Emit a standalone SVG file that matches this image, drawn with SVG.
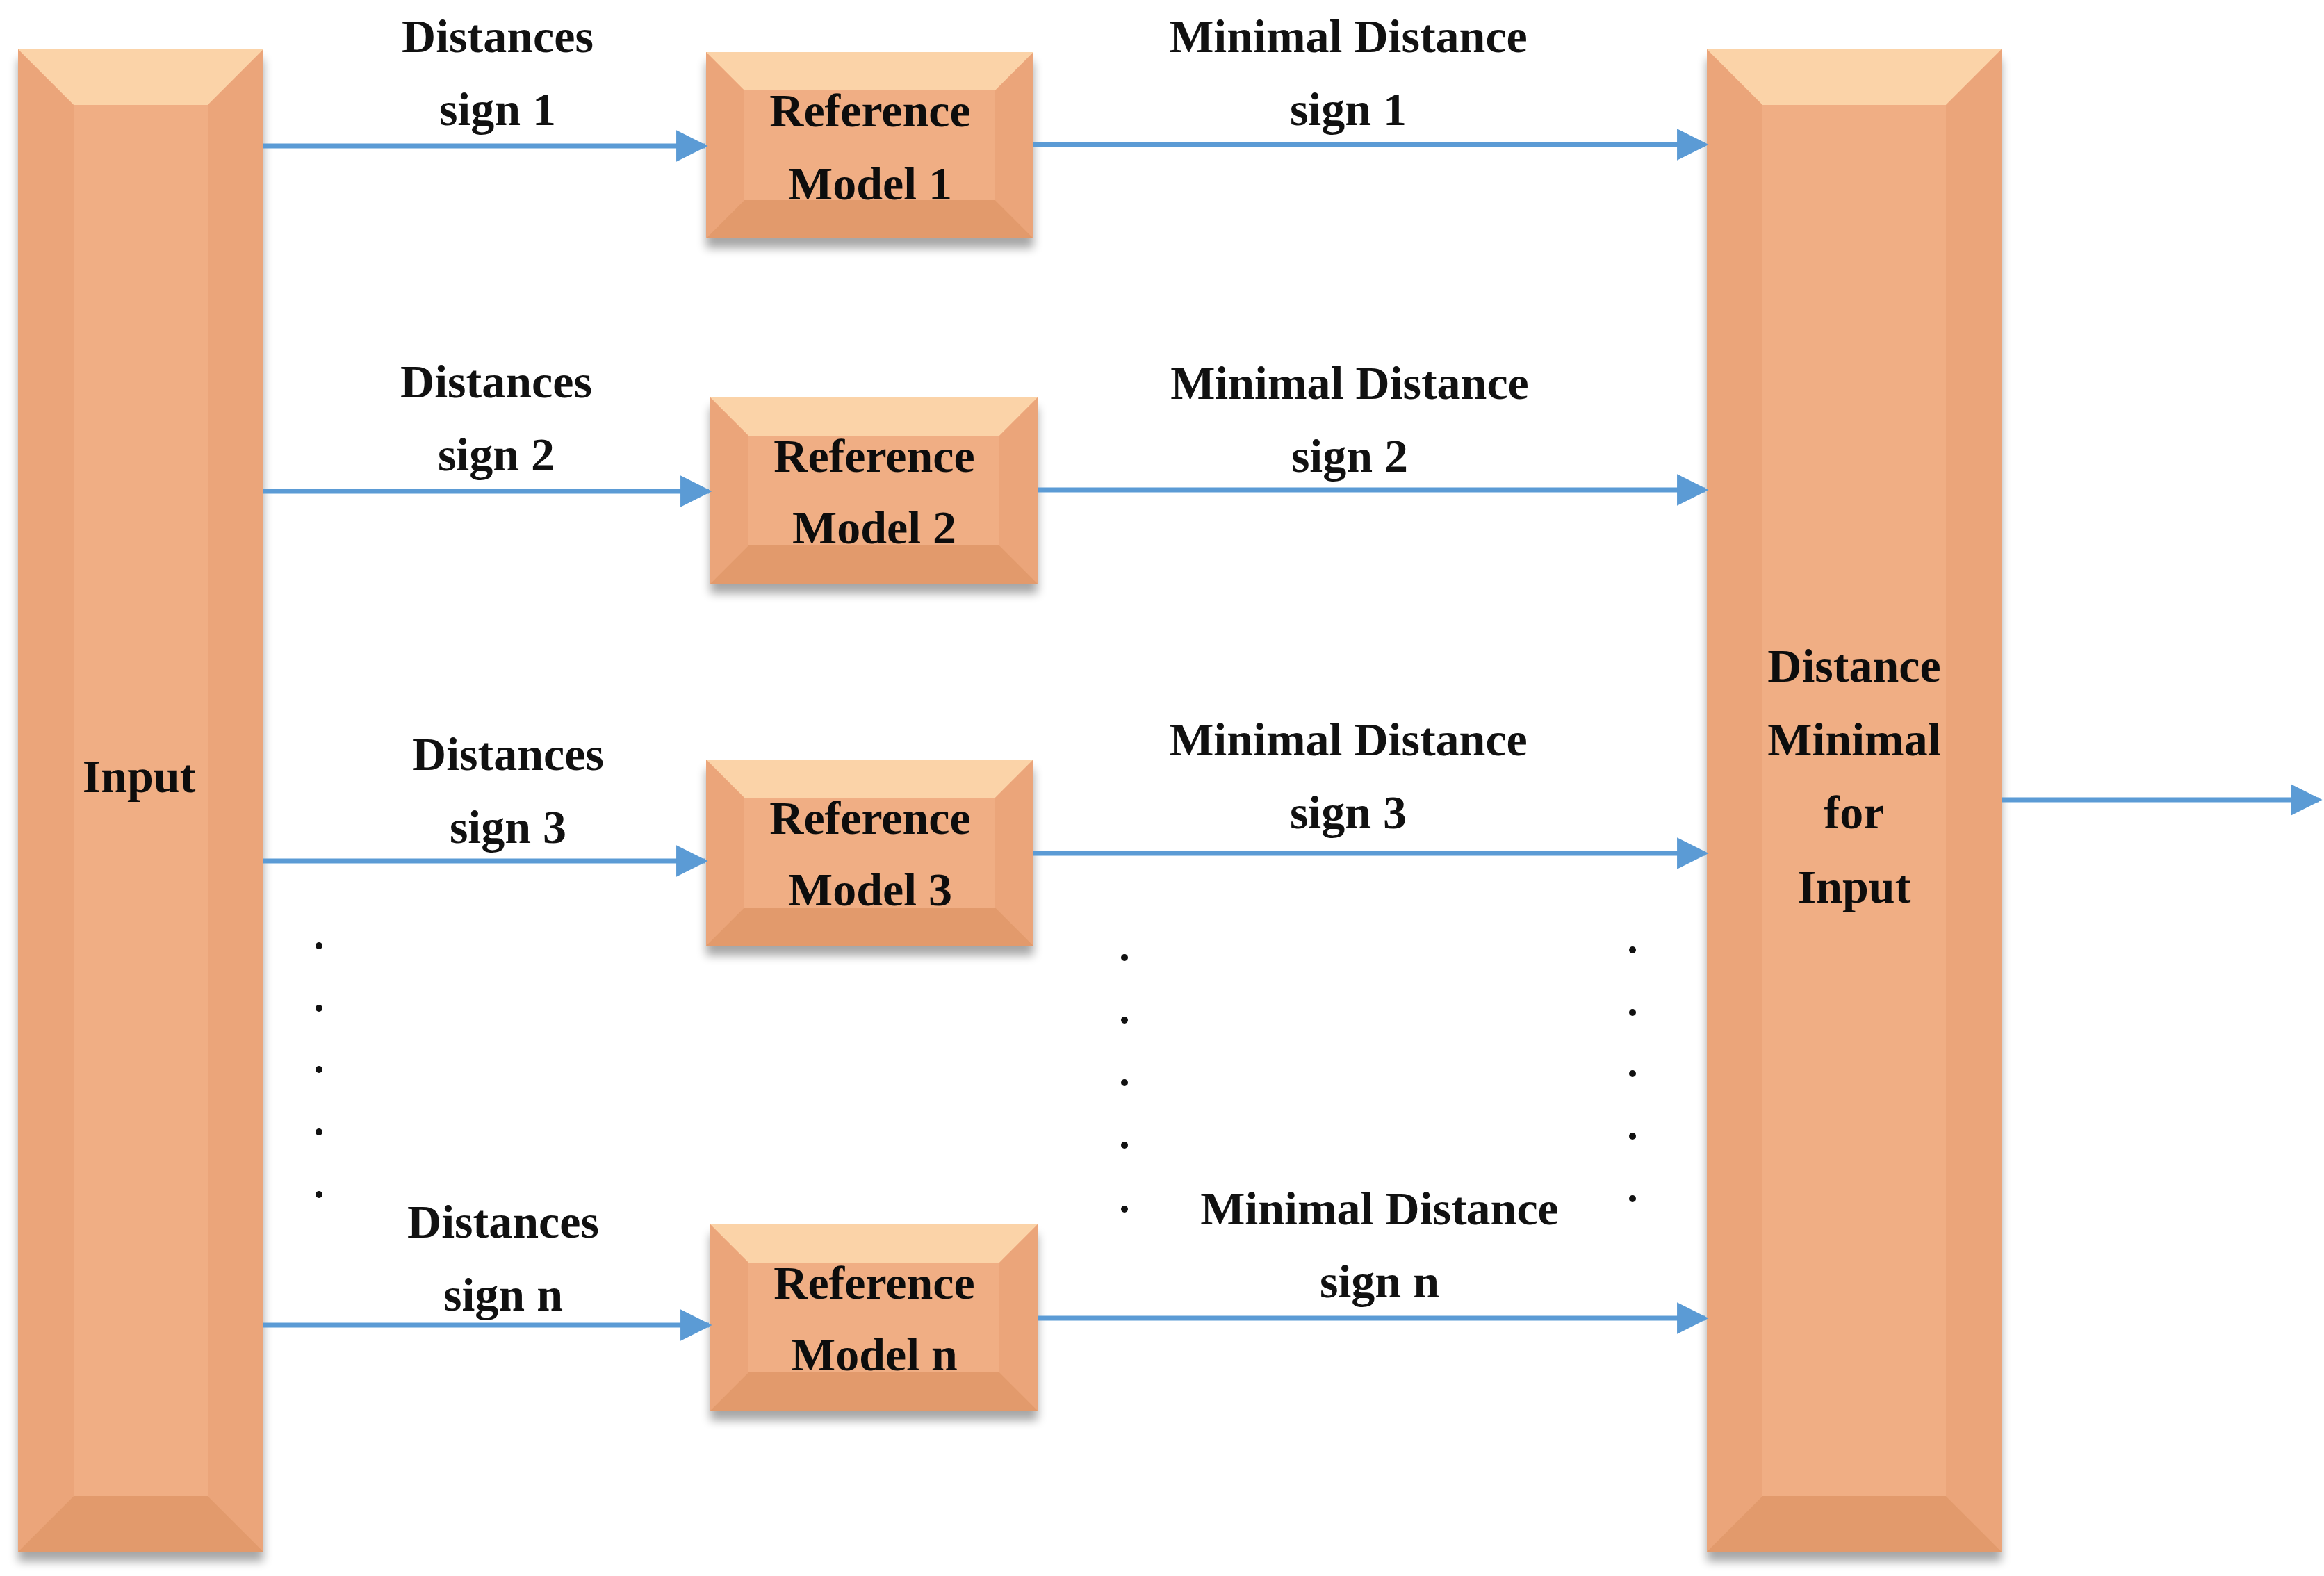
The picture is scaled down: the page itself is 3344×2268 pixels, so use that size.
<svg xmlns="http://www.w3.org/2000/svg" width="3344" height="2268" viewBox="0 0 3344 2268">
<style>
.t{font-family:"Liberation Serif","DejaVu Serif",serif;font-weight:bold;font-size:68px;fill:#111;text-anchor:middle}
.c{stroke:#5B9BD5;stroke-width:7;fill:none;marker-end:url(#ah)}
.base{fill:#F0AE84}
.top{fill:#FBD3A8}
.bot{fill:#E29A6C}
.side{fill:#EBA57A}
.d{fill:#111}
</style>
<defs>
<marker id="ah" viewBox="0 0 10 10" refX="9" refY="5" markerWidth="7" markerHeight="6.5" markerUnits="strokeWidth" orient="auto"><path d="M0,0 L10,5 L0,10 z" fill="#5B9BD5"/></marker>
<filter id="sh" x="-10%" y="-10%" width="120%" height="130%"><feGaussianBlur in="SourceAlpha" stdDeviation="7"/><feOffset dx="0" dy="14"/><feComponentTransfer><feFuncA type="linear" slope="0.35"/></feComponentTransfer><feMerge><feMergeNode/><feMergeNode in="SourceGraphic"/></feMerge></filter>
</defs>
<g id="input" filter="url(#sh)">
<rect class="base" x="26" y="71" width="353" height="2162"/>
<polygon class="top" points="26,71 379,71 299,151 106,151"/>
<polygon class="side" points="26,71 106,151 106,2153 26,2233"/>
<polygon class="side" points="379,71 299,151 299,2153 379,2233"/>
<polygon class="bot" points="26,2233 379,2233 299,2153 106,2153"/>
<rect class="base" x="106" y="151" width="193" height="2002"/>
<text class="t" x="200" y="1140">Input</text>
</g>
<g id="output" filter="url(#sh)">
<rect class="base" x="2456" y="71" width="424" height="2162"/>
<polygon class="top" points="2456,71 2880,71 2800,151 2536,151"/>
<polygon class="side" points="2456,71 2536,151 2536,2153 2456,2233"/>
<polygon class="side" points="2880,71 2800,151 2800,2153 2880,2233"/>
<polygon class="bot" points="2456,2233 2880,2233 2800,2153 2536,2153"/>
<rect class="base" x="2536" y="151" width="264" height="2002"/>
<text class="t" x="2668" y="981">Distance</text>
<text class="t" x="2668" y="1087">Minimal</text>
<text class="t" x="2668" y="1192">for</text>
<text class="t" x="2668" y="1299">Input</text>
</g>
<g id="ref1" filter="url(#sh)" transform="translate(1016,75)">
<rect class="base" width="471" height="268"/>
<polygon class="top" points="0,0 471,0 416,55 55,55"/>
<polygon class="side" points="0,0 55,55 55,213 0,268"/>
<polygon class="side" points="471,0 416,55 416,213 471,268"/>
<polygon class="bot" points="0,268 471,268 416,213 55,213"/>
<text class="t" x="236" y="107">Reference</text>
<text class="t" x="236" y="212">Model 1</text>
</g>
<g id="ref2" filter="url(#sh)" transform="translate(1022,572)">
<rect class="base" width="471" height="268"/>
<polygon class="top" points="0,0 471,0 416,55 55,55"/>
<polygon class="side" points="0,0 55,55 55,213 0,268"/>
<polygon class="side" points="471,0 416,55 416,213 471,268"/>
<polygon class="bot" points="0,268 471,268 416,213 55,213"/>
<text class="t" x="236" y="107">Reference</text>
<text class="t" x="236" y="210">Model 2</text>
</g>
<g id="ref3" filter="url(#sh)" transform="translate(1016,1093)">
<rect class="base" width="471" height="268"/>
<polygon class="top" points="0,0 471,0 416,55 55,55"/>
<polygon class="side" points="0,0 55,55 55,213 0,268"/>
<polygon class="side" points="471,0 416,55 416,213 471,268"/>
<polygon class="bot" points="0,268 471,268 416,213 55,213"/>
<text class="t" x="236" y="107">Reference</text>
<text class="t" x="236" y="210">Model 3</text>
</g>
<g id="refn" filter="url(#sh)" transform="translate(1022,1762)">
<rect class="base" width="471" height="268"/>
<polygon class="top" points="0,0 471,0 416,55 55,55"/>
<polygon class="side" points="0,0 55,55 55,213 0,268"/>
<polygon class="side" points="471,0 416,55 416,213 471,268"/>
<polygon class="bot" points="0,268 471,268 416,213 55,213"/>
<text class="t" x="236" y="107">Reference</text>
<text class="t" x="236" y="210">Model n</text>
</g>
<g id="connectors">
<line class="c" x1="379" y1="210" x2="1014" y2="210"/>
<line class="c" x1="379" y1="707" x2="1020" y2="707"/>
<line class="c" x1="379" y1="1239" x2="1014" y2="1239"/>
<line class="c" x1="379" y1="1907" x2="1020" y2="1907"/>
<line class="c" x1="1487" y1="208" x2="2454" y2="208"/>
<line class="c" x1="1493" y1="705" x2="2454" y2="705"/>
<line class="c" x1="1487" y1="1228" x2="2454" y2="1228"/>
<line class="c" x1="1493" y1="1897" x2="2454" y2="1897"/>
<line class="c" x1="2880" y1="1151" x2="3337" y2="1151"/>
</g>
<g id="labels">
<text class="t" x="716" y="75">Distances</text><text class="t" x="716" y="180">sign 1</text>
<text class="t" x="714" y="572">Distances</text><text class="t" x="714" y="677">sign 2</text>
<text class="t" x="731" y="1108">Distances</text><text class="t" x="731" y="1213">sign 3</text>
<text class="t" x="724" y="1781">Distances</text><text class="t" x="724" y="1886">sign n</text>
<text class="t" x="1940" y="75">Minimal Distance</text><text class="t" x="1940" y="180">sign 1</text>
<text class="t" x="1942" y="574">Minimal Distance</text><text class="t" x="1942" y="679">sign 2</text>
<text class="t" x="1940" y="1087">Minimal Distance</text><text class="t" x="1940" y="1192">sign 3</text>
<text class="t" x="1985" y="1762">Minimal Distance</text><text class="t" x="1985" y="1867">sign n</text>
</g>
<g id="dots">
<circle class="d" cx="459" cy="1361" r="5"/><circle class="d" cx="459" cy="1451" r="5"/><circle class="d" cx="459" cy="1539" r="5"/><circle class="d" cx="459" cy="1629" r="5"/><circle class="d" cx="459" cy="1719" r="5"/>
<circle class="d" cx="1618" cy="1378" r="5"/><circle class="d" cx="1618" cy="1468" r="5"/><circle class="d" cx="1618" cy="1558" r="5"/><circle class="d" cx="1618" cy="1648" r="5"/><circle class="d" cx="1618" cy="1740" r="5"/>
<circle class="d" cx="2349" cy="1367" r="5"/><circle class="d" cx="2349" cy="1457" r="5"/><circle class="d" cx="2349" cy="1545" r="5"/><circle class="d" cx="2349" cy="1635" r="5"/><circle class="d" cx="2349" cy="1725" r="5"/>
</g>
</svg>
